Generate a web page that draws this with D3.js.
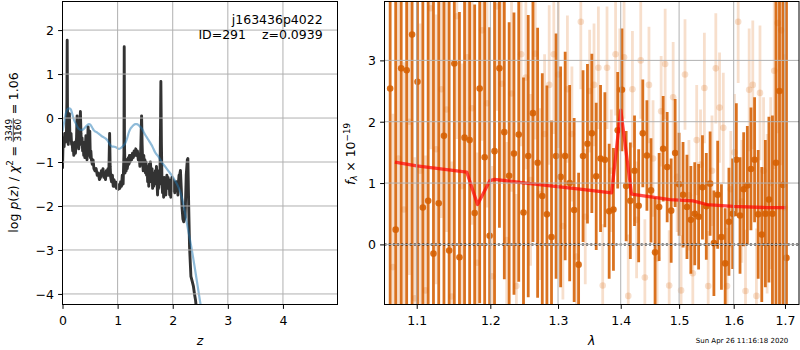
<!DOCTYPE html>
<html><head><meta charset="utf-8">
<script src="https://cdn.jsdelivr.net/npm/d3@7"></script>
<style>
body{margin:0;background:#fff;}
svg{display:block;font-family:"DejaVu Sans",sans-serif;}
</style></head><body>
<svg id="c" width="800" height="350"></svg>
<script>
// ---------------- DATA ----------------
// Left panel: log p(z) (black) and smooth curve (blue)
const zBlack = [0.000,0.010,0.020,0.030,0.040,0.050,0.060,0.070,0.080,0.085,0.090,0.095,0.105,0.115,0.125,0.135,0.145,0.155,0.165,0.175,0.185,0.195,0.205,0.215,0.225,0.235,0.245,0.255,0.265,0.275,0.285,0.295,0.305,0.315,0.325,0.335,0.345,0.355,0.365,0.375,0.385,0.395,0.405,0.415,0.425,0.435,0.445,0.455,0.465,0.475,0.485,0.495,0.505,0.515,0.525,0.540,0.555,0.570,0.590,0.610,0.630,0.650,0.670,0.690,0.705,0.720,0.735,0.750,0.765,0.780,0.795,0.810,0.825,0.840,0.855,0.865,0.875,0.890,0.905,0.920,0.935,0.950,0.965,0.980,0.995,1.010,1.025,1.040,1.055,1.070,1.085,1.100,1.115,1.120,1.125,1.135,1.145,1.155,1.165,1.175,1.185,1.195,1.205,1.215,1.225,1.240,1.255,1.270,1.285,1.300,1.315,1.330,1.345,1.360,1.375,1.390,1.405,1.420,1.435,1.445,1.455,1.465,1.475,1.485,1.495,1.505,1.515,1.525,1.535,1.545,1.555,1.565,1.575,1.585,1.595,1.605,1.615,1.625,1.635,1.645,1.655,1.665,1.675,1.685,1.695,1.705,1.715,1.725,1.735,1.745,1.755,1.765,1.775,1.785,1.795,1.805,1.815,1.825,1.835,1.845,1.855,1.865,1.875,1.885,1.895,1.905,1.915,1.925,1.935,1.945,1.955,1.965,1.975,1.985,1.995,2.005,2.015,2.025,2.035,2.045,2.055,2.065,2.080,2.095,2.105,2.115,2.125,2.140,2.155,2.170,2.185,2.200,2.225,2.245,2.265,2.275,2.290,2.305,2.330,2.355,2.375,2.395,2.415,2.435];
const lnpBlack = [-1.15,-0.55,-0.45,-0.65,-0.35,-0.55,-0.40,-0.50,0.40,1.77,0.30,-0.50,-0.60,-0.25,0.10,-0.45,-0.50,-0.35,-0.60,-0.55,-0.75,-0.65,-0.85,-0.70,-0.55,-0.80,-0.60,-0.45,0.05,-0.55,-0.40,-0.70,-0.55,-0.20,0.15,-0.35,-0.60,-0.45,-0.75,-0.60,-0.85,-0.55,-0.90,-0.65,-0.40,-0.75,-0.95,-0.55,-0.20,-0.85,-0.70,-0.30,-0.90,-0.75,-0.95,-1.05,-0.95,-1.15,-1.20,-1.15,-1.30,-1.25,-1.40,-1.35,-1.20,-1.30,-1.15,-1.35,-1.25,-1.40,-1.20,-1.30,-1.15,-1.30,-0.35,-1.10,-1.35,-1.45,-1.30,-1.55,-1.40,-1.55,-1.45,-1.60,-1.50,-1.62,-1.55,-1.60,-1.45,-1.55,-1.30,-1.50,-0.80,1.62,-0.60,-1.25,-1.00,-1.20,-0.95,-1.15,-1.05,-0.90,-1.05,-0.85,-1.00,-0.85,-0.95,-0.80,-0.90,-0.75,-0.85,-0.70,-0.85,-0.75,-0.95,-0.85,-1.10,-0.70,0.05,-0.60,-1.00,-1.20,-0.85,-1.15,-0.95,-1.25,-1.00,-1.30,-1.10,-1.45,-1.20,-1.55,-1.05,-1.35,-1.00,-1.20,-1.45,-1.15,-1.60,-1.35,-1.55,-1.25,-1.50,-1.20,-1.40,-1.10,-1.45,-1.75,-1.30,-1.60,-1.20,-1.50,-0.70,0.83,-0.60,-1.45,-1.70,-1.40,-1.80,-1.35,-1.65,-1.40,-1.75,-1.45,-1.30,-1.60,-1.35,-1.55,-1.40,-1.75,-1.45,-1.80,-1.50,-1.35,-1.55,-1.40,-1.65,-1.45,-1.70,-1.50,-1.60,-1.45,-1.55,-1.75,-1.45,-1.30,-1.30,-1.19,-1.60,-2.05,-2.30,-2.36,-2.25,-1.30,-0.95,-0.92,-2.00,-2.92,-3.60,-3.72,-3.82,-4.00,-4.15,-4.40];
const zBlue = [0.00,0.03,0.06,0.09,0.12,0.15,0.18,0.21,0.24,0.27,0.30,0.33,0.36,0.39,0.42,0.45,0.48,0.51,0.54,0.57,0.60,0.63,0.66,0.69,0.72,0.75,0.78,0.81,0.84,0.87,0.90,0.93,0.96,0.99,1.02,1.05,1.08,1.11,1.14,1.17,1.20,1.23,1.26,1.29,1.32,1.35,1.38,1.41,1.44,1.47,1.50,1.53,1.56,1.59,1.62,1.65,1.68,1.74,1.80,1.86,1.92,1.98,2.04,2.10,2.16,2.20,2.25,2.30,2.35,2.40,2.45,2.50,2.52];
const lnpBlue = [-0.30,-0.10,0.10,0.20,0.22,0.20,0.08,-0.05,-0.12,-0.20,-0.25,-0.27,-0.27,-0.24,-0.20,-0.16,-0.14,-0.16,-0.22,-0.28,-0.31,-0.33,-0.36,-0.39,-0.42,-0.44,-0.46,-0.50,-0.56,-0.62,-0.65,-0.65,-0.66,-0.68,-0.70,-0.69,-0.66,-0.62,-0.57,-0.47,-0.34,-0.25,-0.20,-0.16,-0.14,-0.14,-0.16,-0.20,-0.24,-0.31,-0.38,-0.44,-0.50,-0.56,-0.62,-0.70,-0.78,-0.88,-1.00,-1.10,-1.20,-1.30,-1.42,-1.56,-1.78,-2.00,-2.35,-2.68,-3.02,-3.40,-3.80,-4.20,-4.35];
const zTicks = [0,1,2,3,4];
const lnpTicks = [-4,-3,-2,-1,0,1,2];

// Right panel: 1D spectrum, two sets of points (dark / faded) and model
const lamA = [1.066,1.073,1.080,1.087,1.094,1.101,1.108,1.115,1.122,1.129,1.136,1.143,1.150,1.157,1.164,1.171,1.178,1.185,1.192,1.199,1.206,1.213,1.220,1.227,1.234,1.241,1.248,1.255,1.262,1.269,1.276,1.283,1.290,1.297,1.304,1.311,1.318,1.325,1.332,1.339,1.346,1.353,1.360,1.367,1.374,1.381,1.388,1.395,1.402,1.409,1.416,1.423,1.430,1.437,1.444,1.451,1.458,1.465,1.472,1.479,1.486,1.493,1.500,1.507,1.514,1.521,1.528,1.535,1.542,1.549,1.556,1.563,1.570,1.577,1.584,1.591,1.598,1.605,1.612,1.619,1.626,1.633,1.640,1.647,1.654,1.661,1.668,1.675,1.682,1.689,1.696,1.703];
const fluxA = [2.54,0.24,2.87,2.84,3.42,2.65,0.60,0.71,-0.15,0.67,1.77,-0.10,2.95,-0.21,1.74,1.70,0.51,2.54,1.42,0.14,1.52,2.87,1.83,1.12,1.48,1.79,0.52,1.44,2.14,1.33,0.79,0.49,0.12,1.44,1.10,1.44,1.00,0.56,-0.33,1.44,1.64,1.81,1.11,1.40,1.38,0.54,0.57,1.86,2.52,0.95,0.71,1.20,0.63,1.81,1.45,0.88,-0.13,0.61,1.56,1.26,0.55,1.49,0.98,0.81,0.61,0.40,0.50,0.45,0.93,0.62,0.99,0.02,0.81,0.12,-0.31,0.37,0.50,1.38,0.47,0.90,0.96,1.23,1.38,0.49,0.16,0.50,0.73,0.50,1.33,2.50,0.97,-0.22];
const errA = [4.5,4.2,4.8,4.0,4.6,4.3,4.5,4.1,4.7,4.4,4.2,4.6,4.3,4.0,3.6,3.8,3.4,3.5,3.2,3.4,3.0,2.6,2.4,2.5,2.3,2.4,2.2,2.3,2.1,2.2,2.0,2.1,1.9,2.0,1.8,1.7,1.6,1.5,1.5,1.4,1.3,1.3,1.2,1.2,1.1,1.1,1.0,0.95,1.0,0.9,0.95,0.9,0.92,0.88,0.9,0.85,0.9,0.88,0.86,0.9,0.85,0.88,0.84,0.86,0.85,0.88,0.84,0.86,0.85,0.87,0.85,0.86,0.88,0.86,0.9,0.88,0.9,0.92,0.95,0.93,0.97,1.0,1.02,1.05,1.1,1.2,1.35,1.6,4.2,4.6,4.8,5.0];
const lamB = [1.0695,1.0765,1.0835,1.0905,1.0975,1.1045,1.1115,1.1185,1.1255,1.1325,1.1395,1.1465,1.1535,1.1605,1.1675,1.1745,1.1815,1.1885,1.1955,1.2025,1.2095,1.2165,1.2235,1.2305,1.2375,1.2445,1.2515,1.2585,1.2655,1.2725,1.2795,1.2865,1.2935,1.3005,1.3075,1.3145,1.3215,1.3285,1.3355,1.3425,1.3495,1.3565,1.3635,1.3705,1.3775,1.3845,1.3915,1.3985,1.4055,1.4125,1.4195,1.4265,1.4335,1.4405,1.4475,1.4545,1.4615,1.4685,1.4755,1.4825,1.4895,1.4965,1.5035,1.5105,1.5175,1.5245,1.5315,1.5385,1.5455,1.5525,1.5595,1.5665,1.5735,1.5805,1.5875,1.5945,1.6015,1.6085,1.6155,1.6225,1.6295,1.6365,1.6435,1.6505,1.6575,1.6645,1.6715,1.6785,1.6855,1.6925,1.6995];
const fluxB = [-0.37,1.40,0.57,2.00,-0.88,1.20,-0.75,3.85,1.55,2.53,2.20,-0.85,3.72,0.95,3.05,2.22,-0.30,3.49,2.30,-0.52,3.88,2.62,0.07,2.46,-0.68,3.10,2.72,1.05,3.11,0.82,1.80,2.60,3.10,2.77,0.30,2.53,1.80,-0.20,3.63,0.45,2.50,2.60,2.88,-0.67,2.88,1.20,3.10,2.52,3.05,-0.84,2.53,0.40,3.00,-0.54,2.60,1.40,-0.23,2.17,2.94,-0.67,2.40,1.10,-0.75,2.77,0.80,-0.47,1.70,1.30,2.55,-0.68,1.20,2.87,2.23,1.90,-0.68,0.90,1.50,3.63,0.70,-0.76,2.52,2.60,-0.84,2.47,1.20,0.50,1.00,2.83,3.61,3.49,0.60];
const errB = [2.5,2.6,2.4,2.5,2.3,2.4,2.2,2.3,2.2,2.1,2.0,2.2,2.0,2.0,1.9,1.9,1.8,1.8,1.7,1.8,1.7,1.6,1.6,1.6,1.5,1.5,1.5,1.4,1.4,1.4,1.3,1.3,1.3,1.2,1.2,1.2,1.1,1.1,1.1,1.1,1.0,1.0,1.0,1.0,1.0,1.0,1.0,1.0,1.0,1.0,0.95,0.95,0.95,0.95,0.95,0.95,0.95,0.9,0.9,0.9,0.9,0.9,0.9,0.9,0.9,0.9,0.9,0.9,0.9,0.9,0.9,0.9,0.9,0.9,0.95,0.95,0.95,1.0,1.0,1.0,1.0,1.05,1.1,1.1,1.2,1.3,1.4,1.6,1.8,2.2,2.5];
const modelLam = [1.072,1.100,1.167,1.182,1.1995,1.206,1.258,1.334,1.385,1.400,1.418,1.484,1.525,1.550,1.599,1.664,1.702];
const modelFlux = [1.34,1.28,1.18,0.65,1.04,1.06,0.99,0.90,0.84,2.19,0.82,0.73,0.71,0.65,0.62,0.60,0.60];
const lamTicks = [1.1,1.2,1.3,1.4,1.5,1.6,1.7];
const fluxTicks = [0,1,2,3];

const objName = "j163436p4022";
const objLine = "ID=291    z=0.0939";
const stamp = "Sun Apr 26 11:16:18 2020";

// ---------------- DRAW ----------------
const svg = d3.select('#c');
const FS = 12.5;
const L = {x0:62.5, x1:337.5, y0:1.5, y1:304.5};
const R = {x0:384.5, x1:799, y0:1.5, y1:304.5};
const GRID = '#b0b0b0';
const ORANGE = '#d55e00';

const xz = d3.scaleLinear([0,4.99],[L.x0,L.x1]);
const yL = d3.scaleLinear([-4.24,2.65],[L.y1,L.y0]);
const xl = d3.scaleLog([1.0589,1.7284],[R.x0,R.x1]);
const yR = d3.scaleLinear([-0.98,3.96],[R.y1,R.y0]);

const defs = svg.append('defs');
[['clipL',L],['clipR',R]].forEach(([id,P])=>{
  defs.append('clipPath').attr('id',id).append('rect')
    .attr('x',P.x0).attr('y',P.y0).attr('width',P.x1-P.x0).attr('height',P.y1-P.y0);
});

function grid(g, P, xs, xt, ys, yt){
  const gg = g.append('g');
  xt.forEach(v=>gg.append('line').attr('x1',xs(v)).attr('x2',xs(v)).attr('y1',P.y0).attr('y2',P.y1)
    .attr('stroke',GRID).attr('stroke-width',1));
  yt.forEach(v=>gg.append('line').attr('y1',ys(v)).attr('y2',ys(v)).attr('x1',P.x0).attr('x2',P.x1)
    .attr('stroke',GRID).attr('stroke-width',1));
}
function axes(g, P, xs, xt, xf, ys, yt, yf){
  const ax = g.append('g').attr('transform',`translate(0,${P.y1})`)
    .call(d3.axisBottom(xs).tickValues(xt).tickFormat(xf).tickSize(4.4).tickSizeOuter(0));
  ax.select('.domain').remove();
  ax.selectAll('text').attr('y',20.5).attr('dy',0).attr('font-size',FS).attr('font-family','DejaVu Sans').attr('fill','#000');
  ax.selectAll('line').attr('stroke','#000');
  const ay = g.append('g').attr('transform',`translate(${P.x0},0)`)
    .call(d3.axisLeft(ys).tickValues(yt).tickFormat(yf).tickSize(4.4).tickPadding(4.2).tickSizeOuter(0));
  ay.select('.domain').remove();
  ay.selectAll('text').attr('dy','0.36em').attr('font-size',FS).attr('font-family','DejaVu Sans').attr('fill','#000');
  ay.selectAll('line').attr('stroke','#000');
  g.append('rect').attr('x',P.x0).attr('y',P.y0).attr('width',P.x1-P.x0).attr('height',P.y1-P.y0)
    .attr('fill','none').attr('stroke','#000').attr('stroke-width',1);
}

// ---- left panel
const gL = svg.append('g');
const cL = gL.append('g').attr('clip-path','url(#clipL)');
const lineL = d3.line().x(d=>xz(d[0])).y(d=>yL(d[1]));
cL.append('path').datum(d3.zip(zBlack,lnpBlack)).attr('d',lineL)
  .attr('fill','none').attr('stroke','#333').attr('stroke-width',2.9).attr('stroke-linejoin','round');
cL.append('path').datum(d3.zip(zBlue,lnpBlue)).attr('d',d3.line().curve(d3.curveMonotoneX).x(d=>xz(d[0])).y(d=>yL(d[1])))
  .attr('fill','none').attr('stroke','#1f77b4').attr('stroke-opacity',0.5).attr('stroke-width',2.2);
grid(gL, L, xz, zTicks, yL, lnpTicks);
axes(gL, L, xz, zTicks, d3.format('d'), yL, lnpTicks, d3.format('d'));
gL.append('text').attr('x',322.7).attr('y',24.3).attr('text-anchor','end').attr('font-size',FS).text(objName);
gL.append('text').attr('x',322.7).attr('y',38.8).attr('text-anchor','end').attr('font-size',FS)
  .style('white-space','pre').text(objLine);

// ---- right panel
const gR = svg.append('g');
const cR = gR.append('g').attr('clip-path','url(#clipR)');
function errSet(lam, flux, err, op){
  const g = cR.append('g');
  lam.forEach((l,i)=>{
    g.append('line').attr('x1',xl(l)).attr('x2',xl(l)).attr('y1',yR(flux[i]-err[i])).attr('y2',yR(flux[i]+err[i]))
      .attr('stroke',ORANGE).attr('stroke-opacity',op).attr('stroke-width',2.8);
  });
  lam.forEach((l,i)=>{
    g.append('circle').attr('cx',xl(l)).attr('cy',yR(flux[i])).attr('r',3.3)
      .attr('fill',ORANGE).attr('fill-opacity',op);
  });
}
errSet(lamB, fluxB, errB, 0.2);
errSet(lamA, fluxA, errA, 0.88);
grid(gR, R, xl, lamTicks, yR, fluxTicks);
cR.append('path').datum(d3.zip(modelLam,modelFlux))
  .attr('d',d3.line().x(d=>xl(d[0])).y(d=>yR(d[1])))
  .attr('fill','none').attr('stroke','red').attr('stroke-opacity',0.7).attr('stroke-width',3.3).attr('stroke-linejoin','round');
cR.append('line').attr('x1',R.x0).attr('x2',R.x1).attr('y1',yR(0)).attr('y2',yR(0))
  .attr('stroke','#000').attr('stroke-width',2).attr('stroke-dasharray','2,2.2');
axes(gR, R, xl, lamTicks, d3.format('.1f'), yR, fluxTicks, d3.format('d'));

// ---- labels
function mathLabel(tx, ty, pieces){
  const outer = svg.append('g').attr('transform',`translate(${tx},${ty}) rotate(-90)`);
  const g = outer.append('g');
  let x = 0;
  pieces.forEach(p=>{
    if (p.gap){ x += p.gap; return; }
    if (p.frac){
      const fs = 9;
      const num = g.append('text').attr('font-size',fs).text(p.frac[0]);
      const den = g.append('text').attr('font-size',fs).text(p.frac[1]);
      const wn = num.node().getComputedTextLength(), wd = den.node().getComputedTextLength();
      const w = Math.max(wn,wd)+2;
      num.attr('x',x+(w-wn)/2).attr('y',-5.6);
      den.attr('x',x+(w-wd)/2).attr('y',3.3);
      g.append('line').attr('x1',x+0.5).attr('x2',x+w-0.5).attr('y1',-4.2).attr('y2',-4.2)
        .attr('stroke','#000').attr('stroke-width',0.7);
      x += w; return;
    }
    const t = g.append('text').attr('x',x).attr('y',p.dy||0).attr('font-size',p.size||FS)
      .attr('font-style',p.it?'italic':null).text(p.t);
    x += t.node().getComputedTextLength();
  });
  g.attr('transform',`translate(${-x/2},0)`);
}
mathLabel(17.5,152.5,[
  {t:'log'},{gap:4},{t:'p',it:1},{t:'('},{t:'z',it:1},{t:')'},{gap:4},{t:'/'},{gap:4},
  {t:'χ',it:1},{t:'2',size:8.75,dy:-5},{gap:3.5},{t:'='},{gap:3.5},{frac:['3349','3160']},
  {gap:3.5},{t:'='},{gap:3.5},{t:'1.06'}
]);
mathLabel(354.5,154,[
  {t:'f',it:1},{t:'λ',it:1,size:8.75,dy:2.6},{gap:3.8},{t:'×'},{gap:3.8},{t:'10'},{t:'−19',size:8.75,dy:-5}
]);
svg.append('text').attr('x',(L.x0+L.x1)/2).attr('y',345).attr('text-anchor','middle')
  .attr('font-size',FS).attr('font-style','italic').text('z');
svg.append('text').attr('x',(R.x0+R.x1)/2).attr('y',345).attr('text-anchor','middle')
  .attr('font-size',FS).attr('font-style','italic').text('λ');
svg.append('text').attr('x',788.3).attr('y',343).attr('text-anchor','end')
  .attr('font-size',7).text(stamp);
</script>
</body></html>
